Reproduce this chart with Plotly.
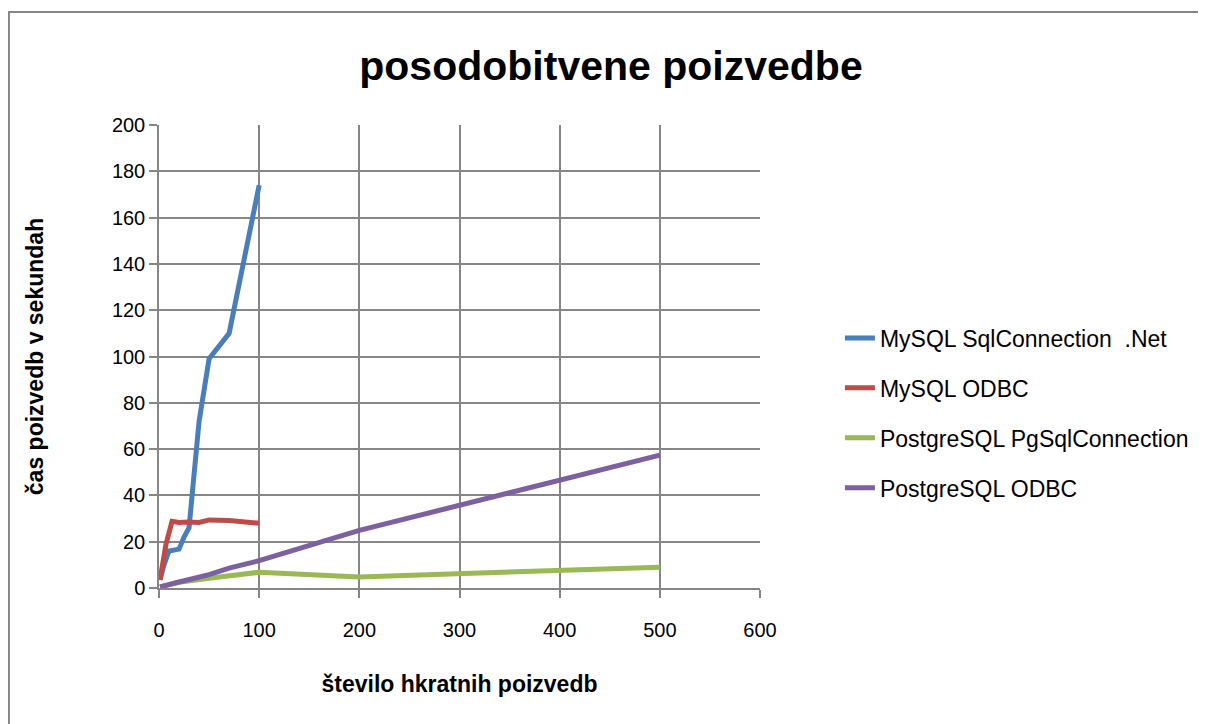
import plotly.graph_objects as go

# Data
x_blue = [1, 5, 10, 20, 25, 30, 40, 50, 70, 100]
y_blue = [3.5, 10, 16, 16.8, 22, 26, 72, 99, 110, 174]
x_red = [1, 7, 13, 20, 30, 40, 50, 70, 100]
y_red = [3.5, 19, 28.8, 28.3, 28.5, 28.3, 29.4, 29.2, 28]
x_green = [1, 10, 20, 50, 70, 100, 200, 500]
y_green = [0.5, 1.5, 2.5, 4.2, 5.3, 6.8, 4.8, 9]
x_purple = [1, 10, 20, 50, 70, 100, 200, 500]
y_purple = [0.5, 1.6, 2.6, 5.8, 8.6, 11.8, 24.9, 57.4]

names = ["MySQL SqlConnection  .Net", "MySQL ODBC", "PostgreSQL PgSqlConnection", "PostgreSQL ODBC"]
colors = ["#4A7EBB", "#BE4B48", "#98B954", "#7D60A0"]
xs = [x_blue, x_red, x_green, x_purple]
ys = [y_blue, y_red, y_green, y_purple]

fig = go.Figure()
for i in range(4):
    fig.add_trace(go.Scatter(x=xs[i], y=ys[i], mode="lines", name=names[i],
                             legendgroup=str(i),
                             line=dict(color=colors[i], width=5)))

grid = "#868686"
tickfont = dict(family="Liberation Sans, Arial, sans-serif", size=20, color="black")
titlefont = dict(family="Liberation Sans, Arial, sans-serif", size=23, color="black")

W, H = 1198, 716
fig.update_layout(
    width=W, height=H,
    margin=dict(l=151, r=446, t=117, b=136),
    paper_bgcolor="white", plot_bgcolor="white",
    title=dict(text="<b>posodobitvene poizvedbe</b>", x=603 / W, xanchor="center",
               y=1 - 58 / H, yanchor="middle",
               font=dict(family="Liberation Sans, Arial, sans-serif", size=41, color="black")),
    showlegend=True,
    legend=dict(x=1.133, xanchor="left", y=0.378, yanchor="middle",
                font=dict(family="Liberation Sans, Arial, sans-serif", size=23, color="black"),
                tracegroupgap=17, bgcolor="rgba(0,0,0,0)"),
    shapes=[dict(type="rect", xref="paper", yref="paper", x0=-0.2497, x1=2, y0=-1, y1=1.244,
                 line=dict(color=grid, width=2), fillcolor="rgba(0,0,0,0)", layer="below")],
)
fig.update_xaxes(range=[0, 600], tickvals=[0, 100, 200, 300, 400, 500, 600],
                 showgrid=True, gridcolor=grid, gridwidth=1.5,
                 showline=True, linecolor=grid, linewidth=1.5, mirror=False,
                 ticks="outside", ticklen=8, tickcolor=grid, tickwidth=1.5,
                 ticklabelstandoff=15,
                 tickfont=tickfont, zeroline=False,
                 title=dict(text="<b>število hkratnih poizvedb</b>", font=titlefont, standoff=36))
fig.update_yaxes(range=[0, 200], tickvals=list(range(0, 201, 20)),
                 showgrid=True, gridcolor=grid, gridwidth=1.5,
                 showline=True, linecolor=grid, linewidth=1.5,
                 ticks="outside", ticklen=8, tickcolor=grid, tickwidth=1.5,
                 tickfont=tickfont, zeroline=False,
                 title=dict(text="<b>čas poizvedb v sekundah</b>", font=titlefont, standoff=62))

fig.write_html("out.html")
